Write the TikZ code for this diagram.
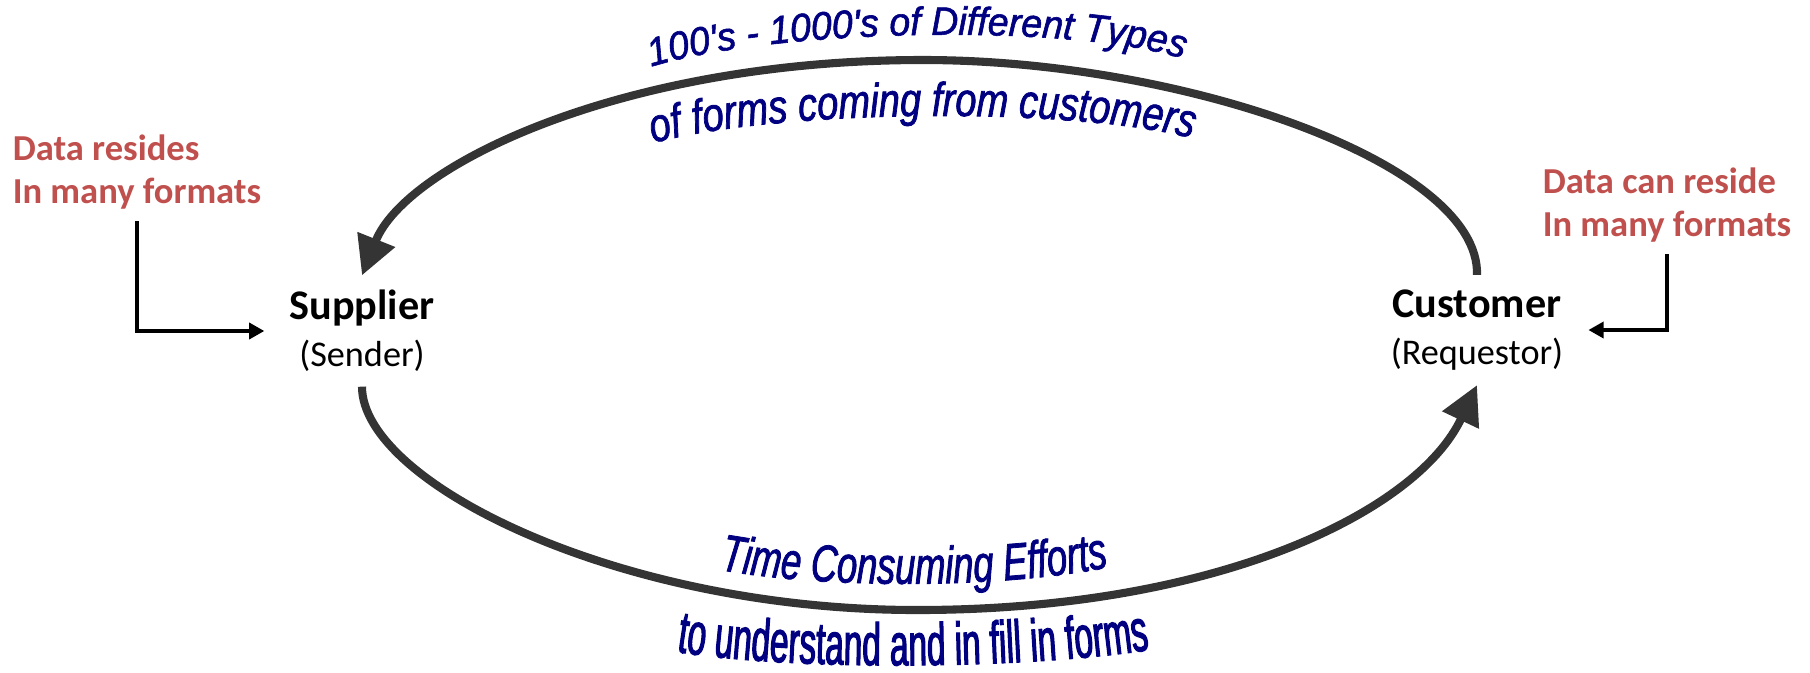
\documentclass[tikz,border=0pt]{standalone}
\usepackage{fontspec}
\setmainfont{Carlito}
\newfontfamily\wordart[Ligatures=TeXOff,FakeStretch=0.95,FakeBold=1.5]{Liberation Sans}
\newfontfamily\wordartnarrow[Ligatures=TeXOff,FakeStretch=0.8,FakeBold=1.5]{Liberation Sans}
\newfontfamily\wordarttall[Ligatures=TeXOff,FakeStretch=0.7,FakeBold=1.5]{Liberation Sans}
\newfontfamily\wordartslim[Ligatures=TeXOff,FakeStretch=0.56,FakeBold=1.8]{Liberation Sans}
\usetikzlibrary{arrows.meta,decorations.text}
\definecolor{notered}{RGB}{192,80,77}
\definecolor{artblue}{RGB}{0,0,128}
\definecolor{flowgray}{RGB}{52,52,52}
\tikzset{
    party/.style={align=center, inner xsep=7pt, inner ysep=4pt, font=\fontsize{12}{13.4}\selectfont},
    note/.style={align=left, text=notered, font=\fontsize{10.4}{12}\selectfont\bfseries},
    pointer/.style={line width=0.9pt, -{Triangle[length=4.3pt,width=4.6pt]}},
    flow/.style={line width=2.3pt, draw=flowgray, -{Triangle[length=11pt,width=11pt]}},
    wordart/.style={decorate, decoration={text along path, text align=center, text color=artblue}}
}
\begin{document}
\begin{tikzpicture}[x=0.01cm, y=-0.01cm]
                    \useasboundingbox (0,0) rectangle (1810,672);

                    \node[party] (supplier) at (362,331) {\textbf{Supplier}\\{\fontsize{10.3}{13.4}\selectfont (Sender)}};
                    \node[party] (customer) at (1477,330) {\textbf{Customer}\\{\fontsize{10.3}{13.4}\selectfont (Requestor)}};
                    \node[note] (lnote) at (137,172) {Data resides\\In many formats};
                    \node[note] (rnote) at (1667,205) {Data can reside\\In many formats};

                    \draw[pointer] (lnote.south) |- (supplier.west);
                    \draw[pointer] (rnote.south) |- (customer.east);

                    \draw[flow] (customer.north) .. controls (1480,163) and (1183,60) .. (923,60)
                        .. controls (623,60) and (406,165) .. (supplier.north);
                    \draw[flow] (supplier.south) .. controls (362,482) and (617,610) .. (917,610)
                        .. controls (1217,610) and (1417,512) .. (customer.south);

                    \path[wordart, decoration={text={|\wordart\itshape\fontsize{11.2}{12}\selectfont|100's - 1000's of Different Types}}]
                        (636,72) .. controls (750,28) and (1090,20) .. (1198,64);
                    \path[wordart, decoration={text={|\wordartnarrow\itshape\fontsize{13.5}{14}\selectfont|of forms coming from customers}}]
                        (640,147) .. controls (760,108) and (1090,105) .. (1205,142);
                    \path[wordart, decoration={text={|\wordarttall\itshape\fontsize{14.8}{15}\selectfont|Time Consuming Efforts}}]
                        (680,561) .. controls (790,592) and (1040,592) .. (1148,557);
                    \path[wordart, decoration={text={|\wordartslim\fontsize{17}{18}\selectfont|to understand and in fill in forms}}]
                        (660,649) .. controls (780,672) and (1040,670) .. (1166,647);
                \end{tikzpicture}
\end{document}
